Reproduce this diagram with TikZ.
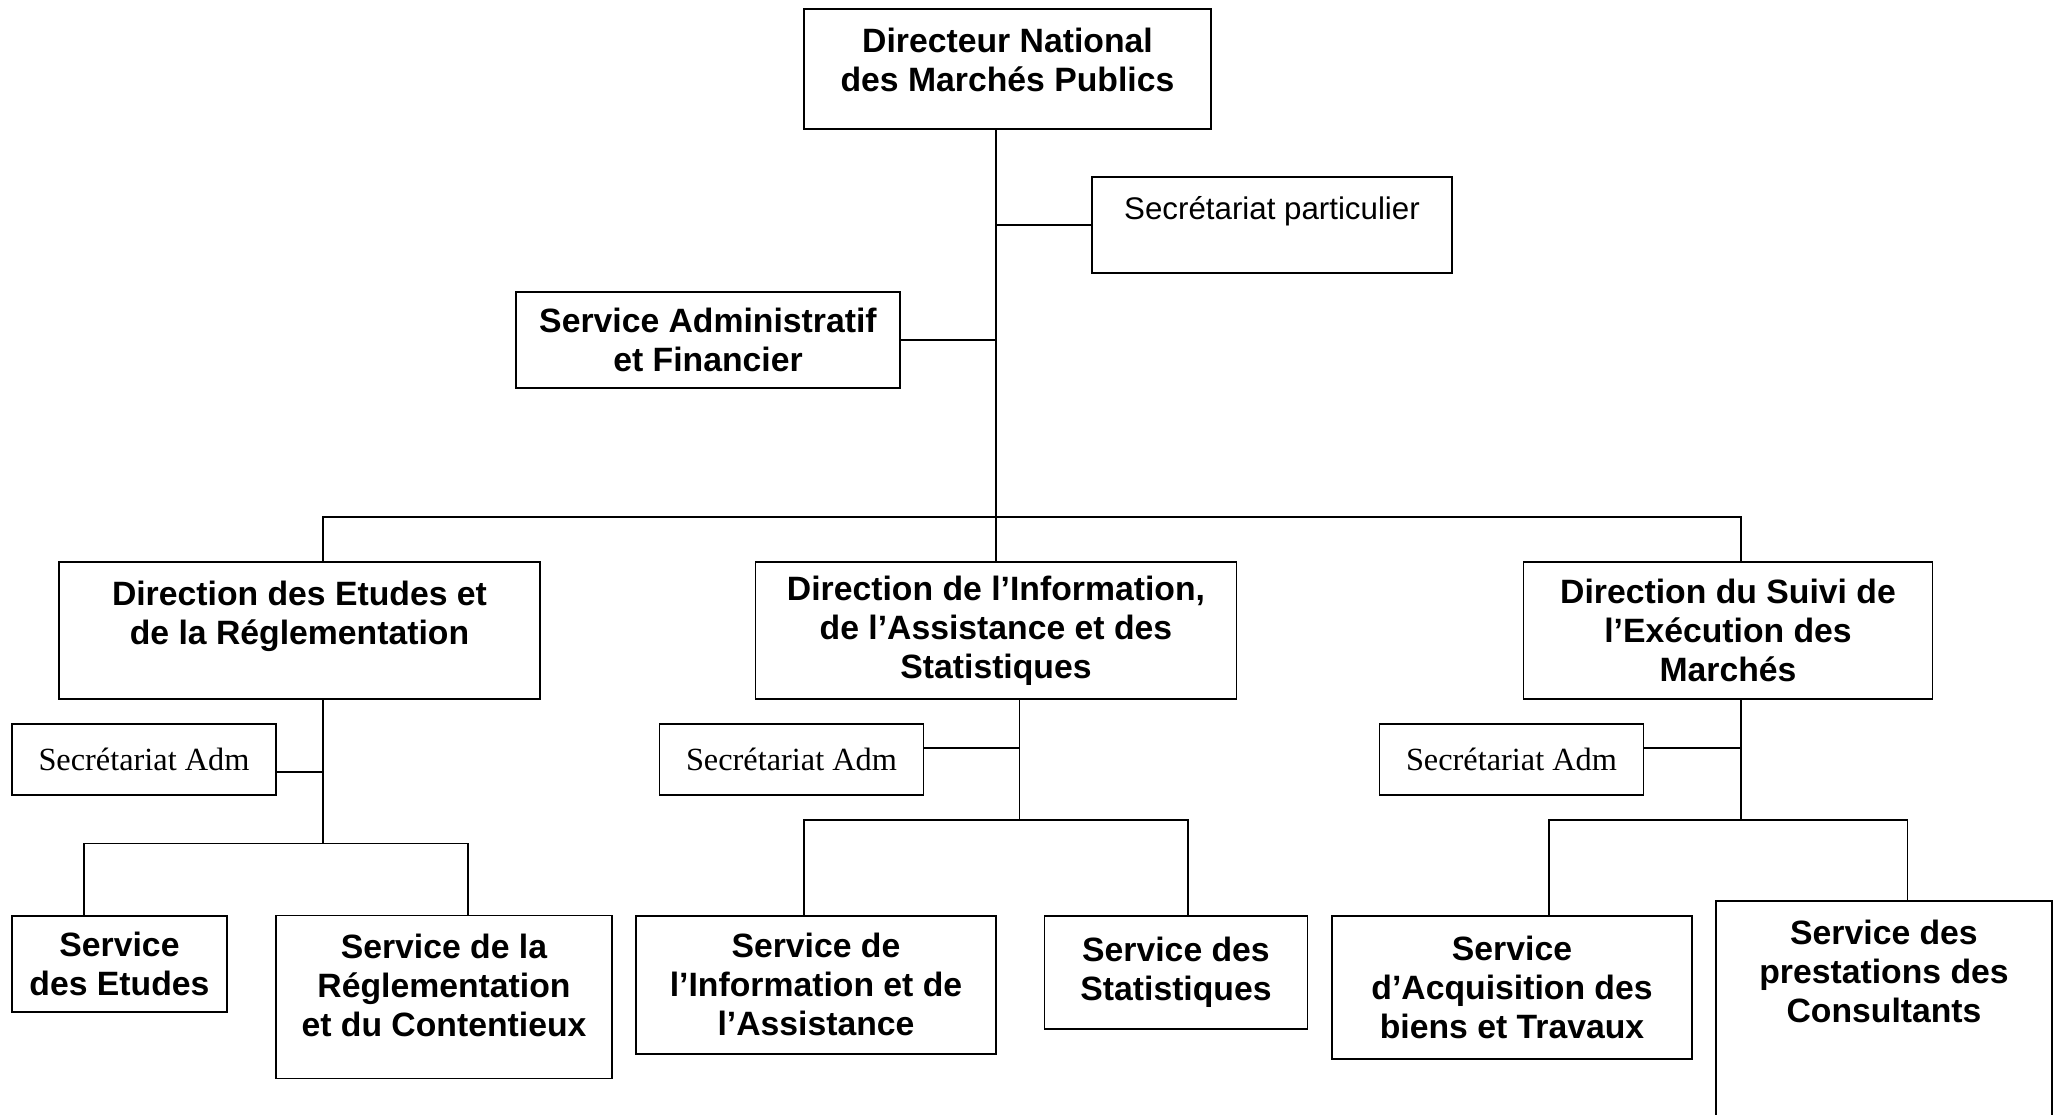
\documentclass[tikz,border=0pt]{standalone}
\usepackage{fontspec}
\setmainfont{Liberation Sans}
\newfontfamily\admfont{Liberation Serif}
\definecolor{orgline}{HTML}{000000}
\tikzset{
  unit/.style={rectangle,draw=orgline,line width=0.5pt,inner sep=0pt,align=center,font=\fontsize{9.6}{11.1}\selectfont\bfseries},
  secr/.style={rectangle,draw=orgline,line width=0.5pt,inner sep=0pt,font=\admfont\fontsize{9.2}{11}\selectfont},
  dims/.style 2 args={minimum width=#1cm,minimum height=#2cm},
  toptext/.style={label={[anchor=north,align=center,inner sep=0pt,yshift=-0.19cm,font=\fontsize{9.6}{11.1}\selectfont\bfseries]north:{#1}}},
  toplight/.style={label={[anchor=north,align=center,inner sep=0pt,yshift=-0.2cm,font=\fontsize{8.9}{11}\selectfont]north:{#1}}},
  conn/.style={draw=orgline,line width=0.5pt}
}

\begin{document}
\begin{tikzpicture}
\useasboundingbox (0,0) rectangle (20.6,-11.15);
\clip (0,0) rectangle (20.6,-11.15);
% direction nationale
\node[unit,dims={4.07}{1.20},toptext={Directeur National\\des Marchés Publics}] (dnmp) at (10.075,-0.69) {};
\node[unit,dims={3.60}{0.96},toplight={Secrétariat particulier}] (secp) at (12.72,-2.25) {};
\node[unit,dims={3.84}{0.96}] (saf) at (7.08,-3.40) {Service Administratif\\et Financier};
% directions
\node[unit,dims={4.81}{1.37},toptext={Direction des Etudes et\\de la Réglementation}] (der) at (2.995,-6.305) {};
\node[unit,dims={4.81}{1.37}] (dias) at (9.96,-6.305) {Direction de l’Information,\\de l’Assistance et des\\Statistiques};
\node[unit,dims={4.09}{1.37}] (dsem) at (17.28,-6.305) {Direction du Suivi de\\l’Exécution des\\Marchés};
% secretariats
\node[secr,dims={2.64}{0.71}] (sa1) at (1.44,-7.595) {Secrétariat Adm};
\node[secr,dims={2.64}{0.71}] (sa2) at (7.915,-7.595) {Secrétariat Adm};
\node[secr,dims={2.64}{0.71}] (sa3) at (15.115,-7.595) {Secrétariat Adm};
% services
\node[unit,dims={2.155}{0.96}] (se) at (1.195,-9.637) {Service\\des Etudes};
\node[unit,dims={3.36}{1.63},toptext={Service de la\\Réglementation\\et du Contentieux}] (sr) at (4.44,-9.97) {};
\node[unit,dims={3.60}{1.38}] (si) at (8.16,-9.847) {Service de\\l’Information et de\\l’Assistance};
\node[unit,dims={2.63}{1.13}] (ss) at (11.76,-9.722) {Service des\\Statistiques};
\node[unit,dims={3.60}{1.43}] (sab) at (15.12,-9.873) {Service\\d’Acquisition des\\biens et Travaux};
\node[unit,dims={3.36}{2.24},toptext={Service des\\prestations des\\Consultants}] (spc) at (18.84,-10.133) {};
% junctions
\coordinate (jsp) at (9.96,-2.25);
\coordinate (jsaf) at (9.96,-3.40);
\coordinate (bl) at (3.23,-5.17);
\coordinate (br) at (17.41,-5.17);
\coordinate (j1) at (3.23,-7.72);
\coordinate (j2) at (10.195,-7.48);
\coordinate (j3) at (17.41,-7.48);
\coordinate (k1) at (3.23,-8.435);
\coordinate (k2) at (10.195,-8.20);
\coordinate (k3) at (17.41,-8.20);
\coordinate (e1) at (0.84,-8.435);
\coordinate (f1) at (4.677,-8.435);
\coordinate (e2) at (8.04,-8.20);
\coordinate (f2) at (11.877,-8.20);
\coordinate (e3) at (15.49,-8.20);
\coordinate (f3) at (19.076,-8.20);
% links
\draw[conn] (dnmp.south -| dias) -- (dias.north);
\draw[conn] (jsp) -- (secp);
\draw[conn] (jsaf) -- (saf);
\draw[conn] (bl |- der.north) -- (bl) -- (br) -- (br |- dsem.north);
\draw[conn] (der.south -| k1) -- (k1);
\draw[conn] (dias.south -| k2) -- (k2);
\draw[conn] (dsem.south -| k3) -- (k3);
\draw[conn] (j1) -- (j1 -| sa1.east);
\draw[conn] (j2) -- (j2 -| sa2.east);
\draw[conn] (j3) -- (j3 -| sa3.east);
\draw[conn] (e1 |- se.north) -- (e1) -- (f1) -- (f1 |- sr.north);
\draw[conn] (e2 |- si.north) -- (e2) -- (f2) -- (f2 |- ss.north);
\draw[conn] (e3 |- sab.north) -- (e3) -- (f3) -- (f3 |- spc.north);
\end{tikzpicture}
\end{document}
